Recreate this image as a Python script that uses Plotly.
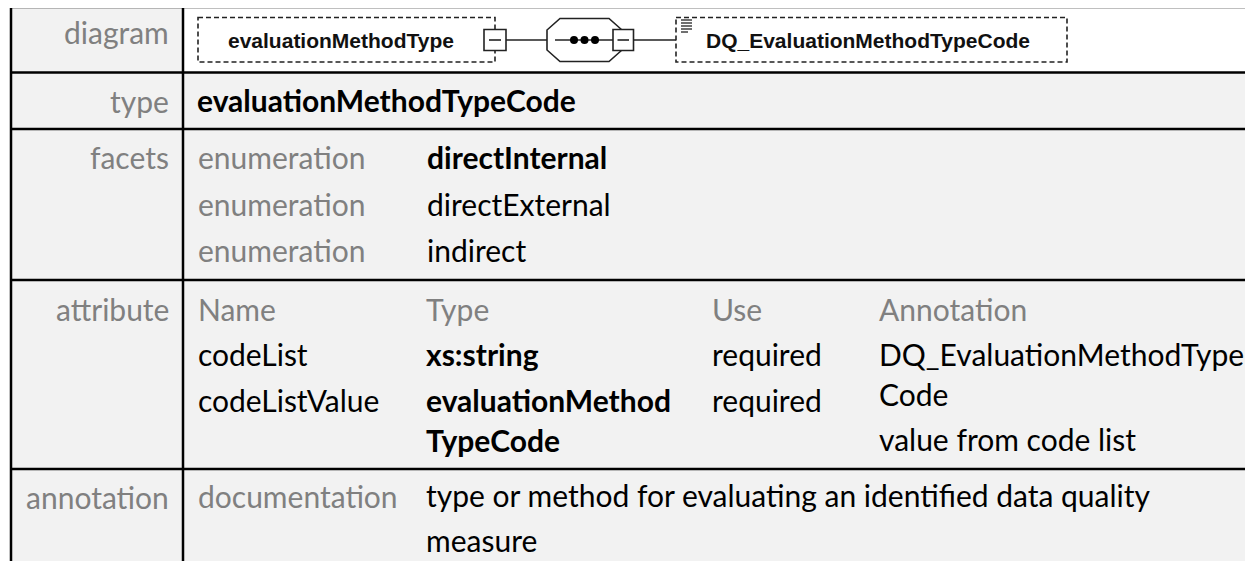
import plotly.graph_objects as go

# ---------------- data (text content of the documentation table) ----------------
row_labels = ["diagram", "type", "facets", "attribute", "annotation"]
element_name = "evaluationMethodType"
element_type_diagram = "DQ_EvaluationMethodTypeCode"
type_name = "evaluationMethodTypeCode"
facet_kinds = ["enumeration", "enumeration", "enumeration"]
facet_values = ["directInternal", "directExternal", "indirect"]
facet_bold = [True, False, False]
attr_headers = ["Name", "Type", "Use", "Annotation"]
attr_names = ["codeList", "codeListValue"]
attr_types = [["xs:string"], ["evaluationMethod", "TypeCode"]]
attr_uses = ["required", "required"]
attr_annotations = [["DQ_EvaluationMethodType", "Code"], ["value from code list"]]
doc_kind = "documentation"
doc_lines = ["type or method for evaluating an identified data quality", "measure"]

# ---------------- layout constants (page pixels) ----------------
PAGE_W, PAGE_H = 1253, 561
OFF = 8  # default body margin of the html page
X_LEFT, X_SEP, X_RIGHT = 11, 183, 1253
ROW_LINES = [7, 72.5, 129, 280, 469]
PAD = 3  # annotation inner padding compensation
LABEL_X = 168 + PAD
COL1_X, COL2_X, COL3_X, COL4_X = 199 - PAD, 428 - PAD, 713 - PAD, 880 - PAD
BG = "#f2f2f2"
GRAY = "#808080"
BLACK = "#000000"
FONT = "Lato"
FS = 30
DFONT = "Liberation Sans"
DFS = 21
DY = -3

fig = go.Figure()
shapes = []
ann = []


def txt(x, y, s, color=BLACK, bold=False, anchor="left", family=FONT, size=FS):
    ann.append(dict(
        x=x, y=y + DY, xref="x", yref="y", text=(f"<b>{s}</b>" if bold else s),
        showarrow=False, xanchor=anchor, yanchor="middle",
        font=dict(family=family, size=size, color=color), align=anchor,
    ))


# backgrounds
shapes.append(dict(type="rect", x0=X_LEFT, x1=X_RIGHT + 5, y0=ROW_LINES[0], y1=PAGE_H + 5,
                   fillcolor=BG, line=dict(width=0), layer="below"))
shapes.append(dict(type="rect", x0=X_SEP, x1=X_RIGHT + 5, y0=ROW_LINES[0], y1=ROW_LINES[1],
                   fillcolor="white", line=dict(width=0), layer="below"))
# grid lines
for yl in ROW_LINES:
    shapes.append(dict(type="line", x0=X_LEFT, x1=X_RIGHT + 5, y0=yl, y1=yl,
                       line=dict(color=BLACK, width=2.5)))
for xl in (X_LEFT, X_SEP):
    shapes.append(dict(type="line", x0=xl, x1=xl, y0=ROW_LINES[0], y1=PAGE_H + 5,
                       line=dict(color=BLACK, width=2.5)))

# row labels
label_y = [35, 104, 160, 311.7, 500]
for lab, yy in zip(row_labels, label_y):
    txt(LABEL_X, yy, lab, color=GRAY, anchor="right")

# ---- diagram row ----
CY = 40
dash = dict(color="#222222", width=1.6, dash="5px,3px")
shapes.append(dict(type="rect", x0=198, x1=495, y0=17.5, y1=62, line=dash))
shapes.append(dict(type="rect", x0=676, x1=1067, y0=17.5, y1=62, line=dash))
solid = dict(color="#222222", width=1.6)
shapes.append(dict(type="rect", x0=484, x1=506, y0=29.5, y1=50.5, fillcolor="white", line=solid))
shapes.append(dict(type="line", x0=489, x1=501, y0=CY, y1=CY, line=solid))
shapes.append(dict(type="line", x0=506, x1=547, y0=CY, y1=CY, line=solid))
shapes.append(dict(type="path",
                   path="M 560 18.5 L 609 18.5 L 622 30 L 622 50 L 609 61.5 L 560 61.5 L 547 50 L 547 30 Z",
                   fillcolor="white", line=solid))
shapes.append(dict(type="line", x0=555, x1=613, y0=CY, y1=CY, line=solid))
for dx in (574, 584.5, 595):
    shapes.append(dict(type="circle", x0=dx - 4, x1=dx + 4, y0=CY - 4, y1=CY + 4,
                       fillcolor="black", line=dict(width=0)))
shapes.append(dict(type="rect", x0=613, x1=633.5, y0=29.5, y1=50.5, fillcolor="white", line=solid))
shapes.append(dict(type="line", x0=617.5, x1=629, y0=CY, y1=CY, line=solid))
shapes.append(dict(type="line", x0=633.5, x1=676, y0=CY, y1=CY, line=solid))
for i, yy in enumerate([20, 23, 26, 29, 32]):
    shapes.append(dict(type="line", x0=681, x1=(692 if i < 4 else 688), y0=yy, y1=yy,
                       line=dict(color="#222222", width=1.3)))

ann.append(dict(x=226, y=CY, xref="x", yref="y", text=f"<b>{element_name}</b>", showarrow=False,
                xanchor="left", yanchor="middle", font=dict(family=DFONT, size=DFS, color="#111111")))
ann.append(dict(x=704, y=CY, xref="x", yref="y", text=f"<b>{element_type_diagram}</b>", showarrow=False,
                xanchor="left", yanchor="middle", font=dict(family=DFONT, size=DFS, color="#111111")))

# ---- type row ----
txt(COL1_X - 1, 103, type_name, bold=True)

# ---- facets ----
for i, (k, v, b) in enumerate(zip(facet_kinds, facet_values, facet_bold)):
    yy = [160, 206.7, 252.7][i]
    txt(COL1_X, yy, k, color=GRAY)
    txt(COL2_X, yy, v, bold=b)

# ---- attributes ----
for hx, h in zip([COL1_X, COL2_X - 1, COL3_X, COL4_X], attr_headers):
    txt(hx, 311.7, h, color=GRAY)
name_y = [356.7, 403.3]
for i in range(len(attr_names)):
    txt(COL1_X, name_y[i], attr_names[i])
    txt(COL3_X, name_y[i], attr_uses[i])
    for j, line in enumerate(attr_types[i]):
        txt(COL2_X - 1, name_y[i] + 40 * j, line, bold=True)
ann_y = [[356.7, 397], [442]]
for lines, ys in zip(attr_annotations, ann_y):
    for line, yy in zip(lines, ys):
        txt(COL4_X, yy, line)

# ---- annotation row ----
txt(COL1_X, 499, doc_kind, color=GRAY)
for j, line in enumerate(doc_lines):
    txt(COL2_X - 1, 498 + 45 * j, line)

fig.update_layout(
    width=PAGE_W - OFF, height=PAGE_H - OFF, margin=dict(l=0, r=0, t=0, b=0),
    paper_bgcolor="white", plot_bgcolor="white",
    xaxis=dict(range=[OFF, PAGE_W], visible=False, fixedrange=True),
    yaxis=dict(range=[PAGE_H, OFF], visible=False, fixedrange=True),
    shapes=shapes, annotations=ann, showlegend=False,
)
fig.write_html("out.html")
